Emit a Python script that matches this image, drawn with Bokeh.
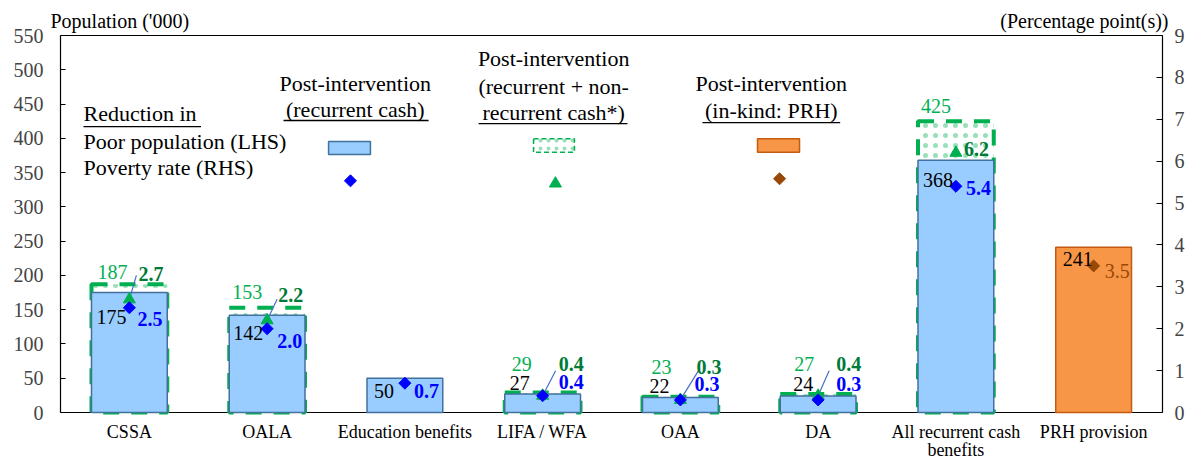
import numpy as np
from bokeh.plotting import figure
from bokeh.models import Range1d, LinearAxis, FixedTicker, ColumnDataSource
from bokeh.core.properties import value
from bokeh.embed import file_html
from bokeh.resources import INLINE

# ---- data -------------------------------------------------------------
categories = ["CSSA", "OALA", "Education benefits", "LIFA / WFA", "OAA", "DA",
              "All recurrent cash\nbenefits", "PRH provision"]
# reduction in poor population ('000)
pop_recurrent = [175, 142, 50, 27, 22, 24, 368, None]
pop_all_cash = [187, 153, None, 29, 23, 27, 425, None]
pop_prh = [None, None, None, None, None, None, None, 241]
# reduction in poverty rate (percentage points)
rate_recurrent = [2.5, 2.0, 0.7, 0.4, 0.3, 0.3, 5.4, None]
rate_all_cash = [2.7, 2.2, None, 0.4, 0.3, 0.4, 6.2, None]
rate_prh = [None, None, None, None, None, None, None, 3.5]
lhs_ticks = list(range(0, 551, 50))
rhs_ticks = list(range(0, 10))
LHS_MAX, RHS_MAX = 550, 9

# ---- styling ----------------------------------------------------------
FONT = "Liberation Serif"
BLUE_FILL, BLUE_LINE = "#99CCFF", "#41719C"
ORANGE_FILL, ORANGE_LINE = "#F79646", "#C55A11"
GREEN, DARK_GREEN = "#00B050", "#007A37"
BLUE_TXT, BROWN = "#0000FF", "#984807"
LEADER = "#4472C4"

# canvas layout (pixels). The frame covers the whole canvas; the plotting box
# (axes, baseline, top edge) is placed inside it through fixed axis locations.
W, H = 1194, 461
BOX_L, BOX_R = 60, 1162
TOP_PX, BASE_PX = 35, 412
N = len(categories)
PX_X = (BOX_R - BOX_L) / N
PX_L = (BASE_PX - TOP_PX) / LHS_MAX
PX_R = (BASE_PX - TOP_PX) / RHS_MAX


def lhs(py):
    """vertical pixel position -> left-axis value"""
    return (BASE_PX - py) / PX_L


def xdat(px):
    """horizontal pixel position -> category-axis value"""
    return (px - BOX_L) / PX_X


xs = [i + 0.5 for i in range(N)]

p = figure(width=W, height=H, x_range=Range1d(xdat(0), xdat(W)),
           y_range=Range1d(lhs(H), lhs(0)),
           output_backend="svg", toolbar_location=None,
           min_border_left=0, min_border_right=0, min_border_top=0, min_border_bottom=0)
p.extra_y_ranges = {"rate": Range1d((BASE_PX - H) / PX_R, BASE_PX / PX_R)}
p.grid.visible = False
p.outline_line_color = None
p.background_fill_color = "white"
p.border_fill_color = "white"
p.xaxis.visible = False

# left axis, pinned to the left edge of the plotting box
yax = p.yaxis[0]
yax.fixed_location = 0
yax.bounds = (0, LHS_MAX)
yax.ticker = FixedTicker(ticks=lhs_ticks)
yax.major_tick_in, yax.major_tick_out = 5, 0
yax.minor_tick_line_color = None
yax.major_label_text_font = FONT
yax.major_label_text_font_size = "20px"
yax.major_label_standoff = 17
yax.axis_line_color = "black"
yax.axis_line_width = 1.2

# right axis, pinned to the right edge of the plotting box
rax = LinearAxis(y_range_name="rate", ticker=FixedTicker(ticks=rhs_ticks),
                 bounds=(0, RHS_MAX), fixed_location=N)
rax.major_tick_in, rax.major_tick_out = 6, 0
rax.minor_tick_line_color = None
rax.major_label_text_font = FONT
rax.major_label_text_font_size = "20px"
rax.major_label_standoff = 12
rax.axis_line_color = "black"
rax.axis_line_width = 1.2
p.add_layout(rax, "right")

# baseline and top edge of the plotting box
p.segment(x0=[0, 0], y0=[0, LHS_MAX], x1=[N, N], y1=[0, LHS_MAX],
          line_color="black", line_width=1.2)

# category names under the baseline
p.text(x=xs, y=[lhs(421)] * N, text=categories, text_align="center", text_baseline="top",
       text_font=value(FONT), text_font_size="18px", text_color="black",
       text_line_height=0.93)


def pick(vals):
    idx = [i for i, v in enumerate(vals) if v is not None]
    return [xs[i] for i in idx], [vals[i] for i in idx]


# ---- bars -------------------------------------------------------------
gx, gtop = pick(pop_all_cash)
p.vbar(x=gx, top=gtop, bottom=0, width=0.55, fill_color="white",
       hatch_pattern="dot", hatch_color=GREEN, hatch_scale=10, hatch_alpha=0.4,
       line_color=GREEN, line_width=4, line_dash="16 12")

bx, btop = pick(pop_recurrent)
p.vbar(x=bx, top=btop, bottom=0, width=0.55, fill_color=BLUE_FILL,
       line_color=BLUE_LINE, line_width=1.5)

ox, otop = pick(pop_prh)
p.vbar(x=ox, top=otop, bottom=0, width=0.55, fill_color=ORANGE_FILL,
       line_color=ORANGE_LINE, line_width=1.5)

# ---- leader lines from the all-cash rate labels to their markers -------
lead_idx = [0, 1, 3, 4, 5]
lead_dx = [7, 10, 13, 18, 11]
lead_dy = [-24, -21, -25, -29, -25]
lx0 = [xs[i] + dx / PX_X for i, dx in zip(lead_idx, lead_dx)]
ly0 = [rate_all_cash[i] - dy / PX_R for i, dy in zip(lead_idx, lead_dy)]
lx1 = [xs[i] for i in lead_idx]
ly1 = [rate_all_cash[i] for i in lead_idx]
p.segment(x0=lx0, y0=ly0, x1=lx1, y1=ly1, line_color=LEADER, line_width=1.2,
          y_range_name="rate")

# ---- rate markers ----------------------------------------------------
DIAMOND = dict(marker="square", angle=np.pi / 4, size=8.5)
TRIANGLE = dict(marker="triangle", size=12)

tx, tval = pick(rate_all_cash)
p.scatter(x=tx, y=tval, fill_color=GREEN, line_color=GREEN, y_range_name="rate", **TRIANGLE)
dx_, dval = pick(rate_recurrent)
p.scatter(x=dx_, y=dval, fill_color=BLUE_TXT, line_color=BLUE_TXT, y_range_name="rate", **DIAMOND)
px_, pval = pick(rate_prh)
p.scatter(x=px_, y=pval, fill_color=BROWN, line_color=BROWN, y_range_name="rate", **DIAMOND)


# ---- value labels ------------------------------------------------------
def labels(xv, yv, texts, dxs, dys, align, color, bold=False):
    src = ColumnDataSource(dict(x=xv, y=yv, t=texts, dx=dxs, dy=dys))
    p.text(x="x", y="y", text="t", x_offset="dx", y_offset="dy", source=src,
           text_align=align, text_baseline="middle", text_color=color,
           text_font=value(FONT), text_font_size="20px",
           text_font_style="bold" if bold else "normal", y_range_name="rate")


# recurrent cash: population (black) and rate (blue), placed around the diamond
labels(dx_, dval, [str(v) for v in btop],
       [-3, -4, -11, -13, -11, -5, -3], [9, 4, 8, -13, -14, -16, -6], "right", "black")
labels(dx_, dval, [f"{v:.1f}" for v in dval],
       [8, 10, 9, 16, 14, 18, 10], [11, 12, 8, -14, -16, -16, 2], "left", BLUE_TXT, True)

# recurrent + non-recurrent cash: population and rate (green), around the triangle
labels(tx, tval, [str(v) for v in gtop],
       [-2, -5, -11, -9, -4, -5], [-27, -28, -32, -33, -32, -47], "right", GREEN)
labels(tx, tval, [f"{v:.1f}" for v in tval],
       [9, 11, 16, 16, 18, 8], [-25, -25, -32, -33, -32, -4], "left", DARK_GREEN, True)

# in-kind PRH
labels(px_, pval, [str(v) for v in otop], [-1], [-7], "right", "black")
labels(px_, pval, [f"{v:.1f}" for v in pval], [11], [5], "left", BROWN)


# ---- legend block drawn in data space --------------------------------
def ltext(x, y, t, align="center", size="22px"):
    p.text(x=[x], y=[y], text=[t], text_align=align, text_baseline="middle",
           text_color="black", text_font=value(FONT), text_font_size=size)


ltext(0.167, 436, "Reduction in", "left")
ltext(0.167, 395, "Poor population (LHS)", "left")
ltext(0.167, 357, "Poverty rate (RHS)", "left")
ltext(2.14, 480, "Post-intervention")
ltext(2.14, 442, "(recurrent cash)")
ltext(3.58, 516, "Post-intervention")
ltext(3.58, 476, "(recurrent + non-")
ltext(3.58, 438, "recurrent cash*)")
ltext(5.16, 480, "Post-intervention")
ltext(5.16, 441, "(in-kind: PRH)")

p.segment(x0=[0.167, 1.619, 3.035, 4.66], y0=[417, 426, 421.5, 423],
          x1=[1.02, 2.672, 4.116, 5.66], y1=[417, 426, 421.5, 423],
          line_color="black", line_width=1.3)

p.quad(left=[1.946], right=[2.250], bottom=[376.5], top=[395.5],
       fill_color=BLUE_FILL, line_color=BLUE_LINE, line_width=1.5)
p.quad(left=[3.434], right=[3.731], bottom=[379.5], top=[399.5], fill_color="white",
       hatch_pattern="dot", hatch_color=GREEN, hatch_scale=8, hatch_alpha=0.4,
       line_color=GREEN, line_width=1.5, line_dash="5 3")
p.quad(left=[5.060], right=[5.365], bottom=[379.5], top=[399.5],
       fill_color=ORANGE_FILL, line_color=ORANGE_LINE, line_width=1.5)
p.scatter(x=[2.105], y=[338], fill_color=BLUE_TXT, line_color=BLUE_TXT, **DIAMOND)
p.scatter(x=[3.593], y=[334], fill_color=GREEN, line_color=GREEN, **TRIANGLE)
p.scatter(x=[5.22], y=[341], fill_color=BROWN, line_color=BROWN, **DIAMOND)

# ---- axis titles above the plotting box ------------------------------
ltext(xdat(50), lhs(20), "Population ('000)", "left", "20px")
ltext(xdat(1168), lhs(20), "(Percentage point(s))", "right", "20px")

open("out.html", "w").write(file_html(p, INLINE))
